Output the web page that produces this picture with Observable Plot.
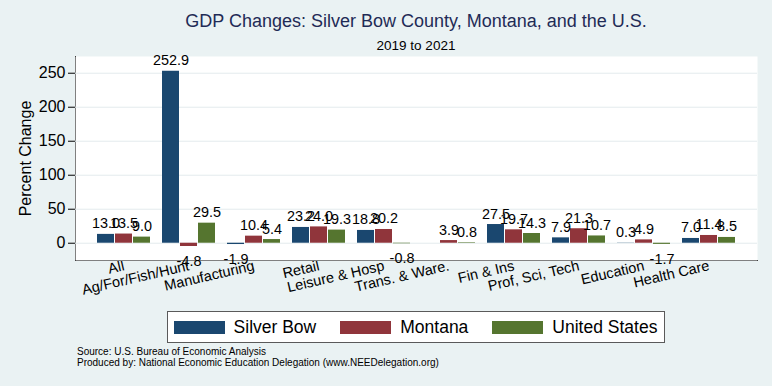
<!DOCTYPE html>
<html>
<head>
<meta charset="utf-8">
<script src="https://cdn.jsdelivr.net/npm/d3@7"></script>
<script src="https://cdn.jsdelivr.net/npm/@observablehq/plot@0.6"></script>
<style>
  html, body { margin: 0; padding: 0; background: #eaf2f3; }
  #wrap { position: relative; width: 772px; height: 386px; background: #eaf2f3; font-family: "Liberation Sans", Arial, Helvetica, sans-serif; overflow: hidden; }
  #title { position: absolute; left: 75px; width: 682px; top: 11px; text-align: center; font-size: 18px; color: #1f2b56; }
  #subtitle { position: absolute; left: 75px; width: 682px; top: 38px; text-align: center; font-size: 13.5px; color: #000; }
  #chart { position: absolute; left: 0; top: 50px; }
  #legendbox { position: absolute; top: 311px; left: 75px; width: 682px; display: flex; justify-content: center; }
  #legend { border: 1.5px solid #5a5a5a; background: #fff; padding: 3px 7px 3px 6px; height: 24px; box-sizing: content-box; display: flex; align-items: center; }
  #legend .lg-swatches { margin: 0 !important; min-height: 0 !important; }
  #legend .lg-swatch { margin-right: 24px !important; }
  #legend .lg-swatch:last-child { margin-right: 0 !important; }
  #legend .lg-swatch > svg { margin-right: 9px !important; }
  #source { position: absolute; left: 77px; top: 347px; font-size: 10px; line-height: 10.5px; color: #000; }
  #chart svg g[aria-label="x-axis tick label"] text { font-size: 14.5px; }
</style>
</head>
<body>
<div id="wrap">
  <div id="title">GDP Changes: Silver Bow County, Montana, and the U.S.</div>
  <div id="subtitle">2019 to 2021</div>
  <div id="chart"></div>
  <div id="legendbox"><div id="legend"></div></div>
  <div id="source">Source: U.S. Bureau of Economic Analysis<br>Produced by: National Economic Education Delegation (www.NEEDelegation.org)</div>
</div>
<script>
const categories = ["All", "Ag/For/Fish/Hunt", "Manufacturing", "Retail", "Leisure & Hosp",
  "Trans. & Ware.", "Fin & Ins", "Prof, Sci, Tech", "Education", "Health Care"];
const series = ["Silver Bow", "Montana", "United States"];
const silverBow    = [13.0, 252.9, -1.9, 23.2, 18.8, null, 27.5, 7.9, 0.3, 7.0];
const montana      = [13.5, -4.8, 10.4, 24.0, 20.2, 3.9, 19.7, 21.3, 4.9, 11.4];
const unitedStates = [9.0, 29.5, 5.4, 19.3, -0.8, 0.8, 14.3, 10.7, -1.7, 8.5];
const yTicks = [0, 50, 100, 150, 200, 250];
const colors = ["#1a476f", "#90353b", "#55752f"];

const values = [silverBow, montana, unitedStates];
const rows = [];
categories.forEach((c, i) => series.forEach((s, j) => {
  const v = values[j][i];
  if (v != null) rows.push({category: c, series: s, value: v});
}));

const W = 772, H = 250, mL = 75, mR = 15, mT = 6, mB = 40;
const padIn = 0.1818, padOut = 0.2576;
const step = (W - mL - mR) / (categories.length - padIn + 2 * padOut);
const bw = step * (1 - padIn);
const third = bw / 3;

const font = "'Liberation Sans', Arial, Helvetica, sans-serif";

const barMarks = series.map((s, j) => Plot.barY(rows.filter(d => d.series === s), {
  x: "category", y: "value", fill: "series",
  insetLeft: j * third, insetRight: (2 - j) * third
}));
const labelMarks = series.flatMap((s, j) => [
  Plot.text(rows.filter(d => d.series === s && d.value >= 0), {
    x: "category", y: "value", text: d => d.value.toFixed(1),
    dx: (j - 1) * third, dy: -6, lineAnchor: "bottom", fontSize: 14.4, fill: "black"
  }),
  Plot.text(rows.filter(d => d.series === s && d.value < 0), {
    x: "category", y: "value", text: d => d.value.toFixed(1),
    dx: (j - 1) * third, dy: 9, lineAnchor: "top", fontSize: 14.4, fill: "black"
  })
]);

const chart = Plot.plot({
  width: W, height: H,
  marginLeft: mL, marginRight: mR, marginTop: mT, marginBottom: mB,
  style: {fontFamily: font, fontSize: "16px", background: "transparent", color: "black", overflow: "visible"},
  x: {domain: categories, paddingInner: padIn, paddingOuter: padOut, align: 0.5,
      tickSize: 0, tickRotate: -13, tickPadding: 5, label: null, line: true},
  y: {domain: [-25.4, 274.6], ticks: yTicks, tickSize: 7, tickPadding: 3,
      label: "Percent Change", labelAnchor: "center", labelOffset: 56, labelArrow: "none", line: true},
  color: {domain: series, range: colors},
  marks: [
    Plot.frame({fill: "white", stroke: "none"}),
    Plot.ruleY(yTicks, {stroke: "#e3ebee", strokeWidth: 1}),
    ...barMarks,
    ...labelMarks
  ]
});
document.getElementById("chart").appendChild(chart);

const lg = chart.legend("color", {
  className: "lg",
  swatchWidth: 51, swatchHeight: 13,
  style: {fontFamily: font, fontSize: "17.5px", color: "black", background: "transparent"}
});
document.getElementById("legend").appendChild(lg);
</script>
</body>
</html>
